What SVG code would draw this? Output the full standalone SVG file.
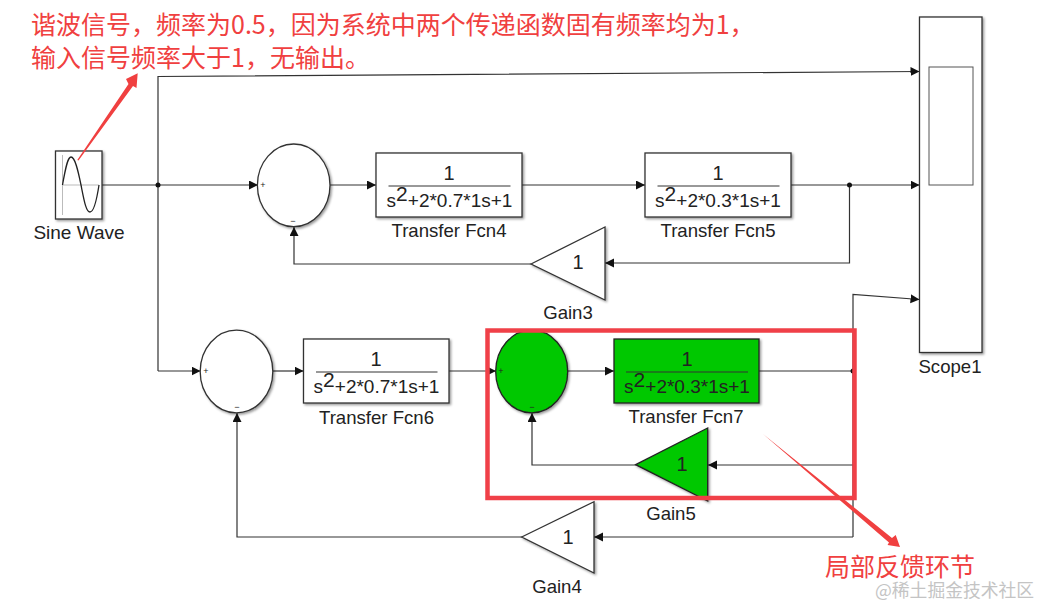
<svg xmlns="http://www.w3.org/2000/svg" width="1041" height="606" viewBox="0 0 1041 606">
<style>
text{font-family:"Liberation Sans",Arial,sans-serif;fill:#222}
.lbl{font-size:18.6px;text-anchor:middle}
.num{font-size:20px;text-anchor:middle}
.den{font-size:19px;text-anchor:middle}
.sup{font-size:21px}
.sign{font-size:9px;text-anchor:middle}
.blk{fill:#fff;stroke:#333;stroke-width:1.3;filter:url(#sh)}
.grn{fill:#00c800;stroke:#222;stroke-width:1.3;filter:url(#sh)}
.frac{stroke:#333;stroke-width:1}
.w{fill:none;stroke:#333;stroke-width:1.2}
.a{marker-end:url(#ah)}
.cjk{font-family:"Noto Sans CJK SC","Liberation Sans",sans-serif;fill:#f04040;font-size:25px}
</style>
<defs>
<filter id="sh" x="-10%" y="-10%" width="125%" height="125%"><feDropShadow dx="1.5" dy="1.5" stdDeviation="1" flood-color="#000" flood-opacity="0.4"/></filter>
<marker id="ah" markerUnits="userSpaceOnUse" markerWidth="10" markerHeight="10" refX="9" refY="4.500" orient="auto"><path d="M0 0L9 4.500L0 9z" fill="#111"/></marker>
</defs>
<rect width="1041" height="606" fill="#fff"/>
<g id="connectors">
<path class="w a" d="M158 371V76.500L919.500 71.500"/>
<path class="w a" d="M102 185H258"/>
<path class="w a" d="M330 185H376"/>
<path class="w a" d="M522 185H645"/>
<path class="w a" d="M791 185H919.500"/>
<path class="w a" d="M849.500 185V263H605"/>
<path class="w a" d="M531 264H294V227"/>
<path class="w a" d="M158 371H200.500"/>
<path class="w a" d="M273 371H303.500"/>
<path class="w a" d="M449 371H496"/>
<path class="w a" d="M568 371H614"/>
<path class="w" d="M759 371H853"/>
<path class="w a" d="M853 537V294.500L919.500 299.500"/>
<path class="w a" d="M853 465H708"/>
<path class="w a" d="M636 465H532V413"/>
<path class="w a" d="M853 537H594"/>
<path class="w a" d="M522 537H237V413"/>
<circle cx="158" cy="185" r="2.500" fill="#111"/>
<circle cx="849.500" cy="185" r="2.500" fill="#111"/>
<circle cx="853" cy="371" r="2.500" fill="#111"/>
</g>
<g id="sine-wave">
<rect class="blk" x="55.500" y="151" width="46.500" height="68"/>
<path d="M62.500 155V215M62.500 185H99" fill="none" stroke="#bbb" stroke-width="1"/>
<path d="M62.500 185C66 165 68 157 71 157C75 157 78 170 81 185C84 200 86 212 90 212C94 212 97 198 99 185" fill="none" stroke="#222" stroke-width="1.3"/>
<text class="lbl" x="79" y="239" style="font-size:19px">Sine Wave</text>
</g>
<g id="sum1"><ellipse class="blk" cx="293.700" cy="185.300" rx="36.300" ry="41.300"/><text class="sign" x="263" y="188">+</text><text class="sign" x="293" y="224">−</text></g>
<g id="tf4"><rect class="blk" x="376" y="153" width="146" height="64"/><text class="num" x="449" y="180">1</text><line class="frac" x1="388.500" x2="510.500" y1="186" y2="186"/><text class="den" x="449.500" y="207">s<tspan class="sup" dy="-6">2</tspan><tspan dy="6">+2*0.7*1s+1</tspan></text><text class="lbl" x="449" y="237">Transfer Fcn4</text></g>
<g id="tf5"><rect class="blk" x="645" y="153" width="146" height="64"/><text class="num" x="718" y="180">1</text><line class="frac" x1="657.500" x2="779.500" y1="186" y2="186"/><text class="den" x="718" y="207">s<tspan class="sup" dy="-6">2</tspan><tspan dy="6">+2*0.3*1s+1</tspan></text><text class="lbl" x="718" y="237">Transfer Fcn5</text></g>
<g id="gain3"><path class="blk" d="M531 264L605 227V300z"/><text class="num" x="578" y="269">1</text><text class="lbl" x="568" y="319">Gain3</text></g>
<g id="sum2"><ellipse class="blk" cx="236.500" cy="371.500" rx="36.300" ry="41.300"/><text class="sign" x="206" y="374">+</text><text class="sign" x="237" y="410">−</text></g>
<g id="tf6"><rect class="blk" x="303.500" y="339" width="145.500" height="64"/><text class="num" x="376" y="366">1</text><line class="frac" x1="316" x2="437.500" y1="372" y2="372"/><text class="den" x="376.500" y="393">s<tspan class="sup" dy="-6">2</tspan><tspan dy="6">+2*0.7*1s+1</tspan></text><text class="lbl" x="376.500" y="424">Transfer Fcn6</text></g>
<g id="sum3"><ellipse class="grn" cx="531.700" cy="371.500" rx="36" ry="41.300"/><text class="sign" x="501" y="374">+</text><text class="sign" x="532" y="410">−</text></g>
<g id="tf7"><rect class="grn" x="614" y="339" width="145" height="64"/><text class="num" x="687" y="366">1</text><line class="frac" x1="626" x2="748" y1="372" y2="372"/><text class="den" x="687" y="393">s<tspan class="sup" dy="-6">2</tspan><tspan dy="6">+2*0.3*1s+1</tspan></text><text class="lbl" x="686" y="423">Transfer Fcn7</text></g>
<g id="gain5"><path class="grn" d="M635.700 464.700L707.700 428V501z"/><text class="num" x="682" y="471">1</text><text class="lbl" x="671" y="520">Gain5</text></g>
<g id="gain4"><path class="blk" d="M521.700 537L594 501.700V573z"/><text class="num" x="568" y="544">1</text><text class="lbl" x="557" y="593">Gain4</text></g>
<g id="scope1"><rect class="blk" x="919.500" y="17" width="62.500" height="335.500"/><rect x="929" y="67" width="44" height="118" fill="#fff" stroke="#555" stroke-width="1"/><text class="lbl" x="950" y="373">Scope1</text></g>
<g id="annotations">
<rect x="487.500" y="330.500" width="367" height="167.500" fill="none" stroke="#f04048" stroke-width="4.500"/>
<path d="M77.300 160L128.500 84L126 79L137.700 73.300L136.500 88L133 86L78.500 160.500z" fill="#f04040"/>
<path d="M763 434L892 538L895.700 535L900 547L887.500 545L889 542.500z" fill="#f04040"/>
<text class="cjk" x="31" y="34">谐波信号，频率为0.5，因为系统中两个传递函数固有频率均为1，</text>
<text class="cjk" x="31" y="67">输入信号频率大于1，无输出。</text>
<text class="cjk" x="825" y="576">局部反馈环节</text>
<text x="875" y="597" font-size="17.800" style="font-family:'Noto Sans CJK SC','Liberation Sans',sans-serif;fill:#c4c4c4">@稀土掘金技术社区</text>
</g>
</svg>
